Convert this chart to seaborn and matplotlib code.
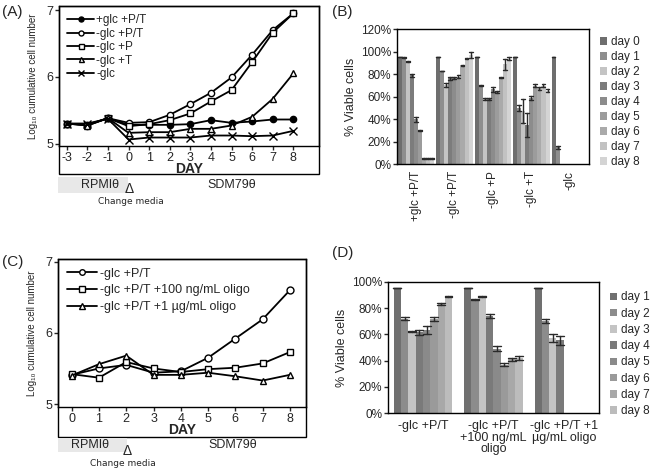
import matplotlib
matplotlib.use('Agg')
from matplotlib import pyplot as plt
from matplotlib.patches import Rectangle
from matplotlib.ticker import PercentFormatter
import pandas as pd
import seaborn as sns

# panel A: growth curves, day -3 to 8
days_a = [-3, -2, -1, 0, 1, 2, 3, 4, 5, 6, 7, 8]
a_glc_pt = [5.30, 5.27, 5.38, 5.28, 5.28, 5.28, 5.29, 5.35, 5.31, 5.33, 5.36, 5.36]
a_pt = [5.30, 5.28, 5.38, 5.31, 5.32, 5.43, 5.59, 5.76, 5.99, 6.33, 6.70, 6.95]
a_p = [5.30, 5.28, 5.38, 5.26, 5.29, 5.35, 5.45, 5.63, 5.80, 6.22, 6.66, 6.95]
a_t = [5.30, 5.27, 5.38, 5.16, 5.17, 5.17, 5.22, 5.22, 5.27, 5.40, 5.67, 6.05]
a_none = [5.30, 5.30, 5.37, 5.06, 5.09, 5.09, 5.09, 5.12, 5.12, 5.11, 5.12, 5.19]
labels_a = ['+glc +P/T', '-glc +P/T', '-glc +P', '-glc +T', '-glc']

# panel B: % viable, day 0-8
groups_b = ['+glc +P/T', '-glc +P/T', '-glc +P', '-glc +T', '-glc']
days_b = ['day 0', 'day 1', 'day 2', 'day 3', 'day 4', 'day 5', 'day 6', 'day 7', 'day 8']
nan = float('nan')
viab_b = [
    [95, 95, 91, 79, 40, 30, 5, 5, 5],
    [95, 83, 70.5, 76.5, 77, 78, 88, 94, 97],
    [95, 70, 58, 58, 66.5, 64.5, 77, 89, 94],
    [95, 50, 47.5, 35, 59, 70, 67.5, 70, 65.5],
    [95, 15, nan, nan, nan, nan, nan, nan, nan],
]
err_b = [
    [0, 0.5, 0.5, 1.5, 2, 0.5, 0.5, 0.5, 0.5],
    [0, 0, 1.5, 1.5, 1, 1, 0.5, 0.5, 2.5],
    [0, 0.5, 0.5, 0.5, 2, 1, 0.5, 5, 1],
    [0, 2.5, 10.5, 10.5, 2, 1, 1.5, 1.5, 1],
    [0, 1, 0, 0, 0, 0, 0, 0, 0],
]
colors_b = ['#6e6e6e', '#8e8e8e', '#c4c4c4', '#7c7c7c', '#8c8c8c',
            '#9c9c9c', '#aaaaaa', '#c2c2c2', '#d4d4d4']

# panel C: growth with oligomycin
days_c = [0, 1, 2, 3, 4, 5, 6, 7, 8]
c_pt = [5.41, 5.50, 5.55, 5.44, 5.46, 5.65, 5.92, 6.19, 6.60]
c_100 = [5.42, 5.37, 5.59, 5.50, 5.45, 5.49, 5.51, 5.57, 5.73]
c_1 = [5.40, 5.56, 5.68, 5.41, 5.41, 5.44, 5.39, 5.33, 5.41]
labels_c = ['-glc +P/T', '-glc +P/T +100 ng/mL oligo', '-glc +P/T +1 µg/mL oligo']

# panel D: % viable with oligomycin, day 1-8
groups_d = ['-glc +P/T', '-glc +P/T\n+100 ng/mL\noligo', '-glc +P/T +1\nµg/mL oligo']
days_d = ['day 1', 'day 2', 'day 3', 'day 4', 'day 5', 'day 6', 'day 7', 'day 8']
viab_d = [
    [95, 72, 62, 61.5, 63.5, 72, 83, 89],
    [95, 86.5, 89, 74, 49, 37, 41, 42],
    [95, 70, 57.5, 55.5, nan, nan, nan, nan],
]
err_d = [
    [0, 1, 0.5, 2, 3, 1.5, 0.8, 0.5],
    [0, 0.5, 0.5, 1.5, 2, 1, 1, 1.5],
    [0, 1.5, 3, 3.5, 0, 0, 0, 0],
]
colors_d = ['#707070', '#8c8c8c', '#c4c4c4', '#7a7a7a', '#8a8a8a',
            '#9a9a9a', '#a8a8a8', '#bcbcbc']


def long_table(groups, days, means, errs):
    # two rows per bar (mean-err, mean+err) so the min-max interval is the error bar
    rows = []
    for g, mrow, erow in zip(groups, means, errs):
        for d, m, e in zip(days, mrow, erow):
            if m != m:
                continue
            rows.append((g, d, m - e))
            rows.append((g, d, m + e))
    return pd.DataFrame(rows, columns=['group', 'day', 'viable'])


sns.set_style('ticks')
plt.rcParams['font.family'] = ['Liberation Sans', 'DejaVu Sans']
plt.rcParams['axes.unicode_minus'] = False
plt.rcParams['axes.linewidth'] = 1.0
plt.rcParams['xtick.major.width'] = 1.0
plt.rcParams['ytick.major.width'] = 1.0

W, H = 650, 470
fig = plt.figure(figsize=(6.5, 4.7), dpi=100)


def rect(l, t, r, b):
    return [l / W, 1 - b / H, (r - l) / W, (b - t) / H]


def growth_axes(ax, ext):
    ax.add_patch(Rectangle((0, -ext), 1, 1 + ext, transform=ax.transAxes,
                           fill=False, lw=1.0, ec='black', clip_on=False))
    ax.set_yticks([5, 6, 7])
    ax.tick_params(axis='both', labelsize=9, length=3, pad=1)
    ax.set_xlabel('DAY', fontsize=10, fontweight='bold', labelpad=-1)
    ax.set_ylabel('Log₁₀ cumulative cell number', fontsize=7, labelpad=6)
    for s in ax.spines.values():
        s.set_color('black')


def media_labels(top, bottom, xr, delta_xy, rpmi_x, sdm_x, cm_xy):
    fig.patches.append(Rectangle((58 / W, 1 - bottom / H), (xr - 58) / W,
                                 (bottom - top) / H, transform=fig.transFigure,
                                 fc='#e8e8e8', ec='none'))
    ymid = 1 - (top + bottom) / 2 / H
    fig.text(rpmi_x / W, ymid, 'RPMIθ', fontsize=9, ha='center', va='center')
    fig.text(sdm_x / W, ymid, 'SDM79θ', fontsize=9, ha='center', va='center')
    fig.text(delta_xy[0] / W, 1 - delta_xy[1] / H, 'Δ', fontsize=10,
             ha='center', va='center')
    fig.text(cm_xy[0] / W, 1 - cm_xy[1] / H, 'Change media', fontsize=6.5,
             ha='center', va='center', family='DejaVu Sans')


# ---- (A)
axA = fig.add_axes(rect(58.7, 6, 319.3, 146))
markers_a = [('o', 'black'), ('o', 'white'), ('s', 'white'), ('^', 'white'), ('x', 'black')]
for vals, lab, (mk, fc) in zip([a_glc_pt, a_pt, a_p, a_t, a_none], labels_a, markers_a):
    sns.lineplot(x=days_a, y=vals, ax=axA, color='black', lw=1.3, marker=mk,
                 markersize=6 if mk == 'x' else 4.5, markerfacecolor=fc,
                 markeredgecolor='black', markeredgewidth=1.0, label=lab)
axA.set_xlim(-3.39, 9.26)
axA.set_ylim(4.963, 7.06)
axA.set_xticks(days_a)
growth_axes(axA, 0.2)
axA.legend(loc='upper left', bbox_to_anchor=(0.0, 1.0), frameon=False, fontsize=8.5,
           handlelength=2.3, handletextpad=0.2, labelspacing=0.12, borderaxespad=0.3,
           markerscale=0.8)
media_labels(177, 193, 128, (129, 189), 100, 232, (131, 201))
fig.text(2 / W, 1 - 12 / H, '(A)', fontsize=11, va='center')

# ---- (C)
axC = fig.add_axes(rect(58.3, 259, 306, 407.3))
markers_c = ['o', 's', '^']
for vals, lab, mk in zip([c_pt, c_100, c_1], labels_c, markers_c):
    sns.lineplot(x=days_c, y=vals, ax=axC, color='black', lw=1.3, marker=mk,
                 markersize=5, markerfacecolor='white', markeredgecolor='black',
                 markeredgewidth=1.0, label=lab)
axC.set_xlim(-0.49, 8.59)
axC.set_ylim(4.954, 7.038)
axC.set_xticks(days_c)
growth_axes(axC, 0.198)
axC.legend(loc='upper left', bbox_to_anchor=(0.0, 1.0), frameon=False, fontsize=9,
           handlelength=2.4, handletextpad=0.2, labelspacing=0.38, borderaxespad=0.3,
           markerscale=0.8)
media_labels(438, 452, 127, (126.7, 451), 90, 233, (123, 464))
fig.text(2 / W, 1 - 262 / H, '(C)', fontsize=11, va='center')


def viability_axes(ax, df, days, colors, width, ymax, rot, spacing, anchor_y):
    sns.barplot(data=df, x='group', y='viable', hue='day', hue_order=days,
                palette=colors, saturation=1, width=width, linewidth=0,
                errorbar=('pi', 100), capsize=0.9,
                err_kws={'color': '#2a2a2a', 'linewidth': 1.0}, ax=ax)
    ax.set_ylim(0, ymax)
    ax.yaxis.set_major_formatter(PercentFormatter(100, decimals=0))
    ax.set_xlabel('')
    ax.set_ylabel('% Viable cells', fontsize=9, labelpad=3)
    ax.tick_params(axis='y', labelsize=8.5, length=3, pad=1)
    ax.tick_params(axis='x', labelsize=8.5, length=0, pad=5, rotation=rot)
    for s in ax.spines.values():
        s.set_color('black')
    ax.legend(loc='upper left', bbox_to_anchor=(1.02, anchor_y),
              frameon=False, fontsize=8.5, handlelength=0.6, handleheight=0.6,
              handletextpad=0.3, labelspacing=spacing, borderaxespad=0.2)


# ---- (B)
axB = fig.add_axes(rect(396.7, 29.3, 589, 164.3))
df_b = long_table(groups_b, days_b, viab_b, err_b)
viability_axes(axB, df_b, days_b, colors_b, 0.95, 120, 90, 0.25, 1.0)
axB.set_yticks([0, 20, 40, 60, 80, 100, 120])
for t in axB.get_xticklabels():
    t.set_va('top')
fig.text(332 / W, 1 - 12 / H, '(B)', fontsize=11, va='center')

# ---- (D)
axD = fig.add_axes(rect(387.7, 281.7, 599, 413.3))
df_d = long_table(groups_d, days_d, viab_d, err_d)
viability_axes(axD, df_d, days_d, colors_d, 0.83, 100, 0, 0.36, 0.98)
axD.set_yticks([0, 20, 40, 60, 80, 100])
for t in axD.get_xticklabels():
    t.set_linespacing(0.95)
    t.set_fontsize(9)
fig.text(332 / W, 1 - 253 / H, '(D)', fontsize=11, va='center')

fig.savefig('out.png', dpi=100)
